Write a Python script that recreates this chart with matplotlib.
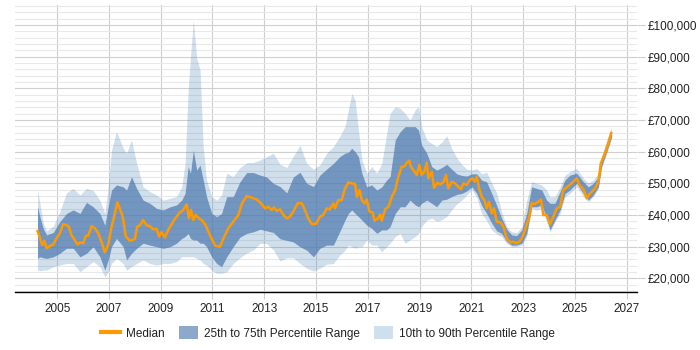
import matplotlib
matplotlib.use('Agg')
import matplotlib.pyplot as plt
from matplotlib.patches import Patch
from matplotlib.lines import Line2D
from matplotlib.ticker import FuncFormatter, MultipleLocator

plt.rcParams['font.family'] = ['Liberation Sans', 'DejaVu Sans']

# median salary (in £k)
median_years = [2004.24, 2004.33, 2004.42, 2004.50, 2004.59, 2004.72, 2004.85, 2004.97,
                2005.10, 2005.23, 2005.36, 2005.45, 2005.55, 2005.68, 2005.79, 2005.88,
                2006.01, 2006.11, 2006.20, 2006.33, 2006.46, 2006.59, 2006.71, 2006.84,
                2006.97, 2007.10, 2007.20, 2007.32, 2007.42, 2007.53, 2007.65, 2007.81,
                2008.00, 2008.09, 2008.20, 2008.32, 2008.45, 2008.58, 2008.71, 2008.84,
                2008.94, 2009.03, 2009.16, 2009.29, 2009.48, 2009.61, 2009.74, 2009.87,
                2010.00, 2010.09, 2010.17, 2010.26, 2010.35, 2010.48, 2010.61, 2010.73,
                2010.90, 2011.10, 2011.29, 2011.42, 2011.61, 2011.80, 2012.00, 2012.13,
                2012.32, 2012.51, 2012.71, 2012.90, 2013.03, 2013.16, 2013.29, 2013.38,
                2013.48, 2013.61, 2013.74, 2013.87, 2013.99, 2014.12, 2014.29, 2014.45,
                2014.57, 2014.70, 2014.83, 2015.00, 2015.15, 2015.28, 2015.41, 2015.54,
                2015.67, 2015.73, 2015.86, 2015.99, 2016.12, 2016.25, 2016.38, 2016.51,
                2016.58, 2016.68, 2016.77, 2016.87, 2016.96, 2017.06, 2017.19, 2017.26,
                2017.39, 2017.48, 2017.54, 2017.67, 2017.80, 2017.93, 2018.06, 2018.18,
                2018.31, 2018.40, 2018.51, 2018.60, 2018.66, 2018.76, 2018.89, 2018.99,
                2019.08, 2019.18, 2019.28, 2019.34, 2019.47, 2019.56, 2019.69, 2019.79,
                2019.92, 2020.02, 2020.11, 2020.24, 2020.37, 2020.50, 2020.60, 2020.69,
                2020.82, 2020.95, 2021.05, 2021.14, 2021.21, 2021.30, 2021.40, 2021.50,
                2021.59, 2021.68, 2021.79, 2021.88, 2021.98, 2022.14, 2022.24, 2022.37,
                2022.50, 2022.62, 2022.75, 2022.88, 2022.98, 2023.11, 2023.24, 2023.33,
                2023.46, 2023.59, 2023.69, 2023.78, 2023.91, 2024.04, 2024.17, 2024.30,
                2024.43, 2024.55, 2024.75, 2024.94, 2025.07, 2025.17, 2025.33, 2025.46,
                2025.58, 2025.78, 2025.91, 2026.00, 2026.16, 2026.29, 2026.40]
median = [34.9, 32.9, 30.5, 31.9, 29.5, 30.2, 30.7, 32.6,
          34.2, 37.1, 36.8, 36.3, 33.7, 32.1, 30.7, 31.4,
          31.1, 33.5, 33.5, 36.5, 35.8, 34.2, 31.6, 28.2,
          30.5, 36.3, 39.5, 44.0, 42.1, 39.5, 33.2, 31.9,
          32.4, 36.3, 36.8, 38.4, 36.8, 36.5, 35.5, 35.6,
          33.2, 34.7, 32.9, 35.3, 37.9, 39.5, 40.8, 41.6,
          43.4, 39.0, 41.6, 38.4, 40.0, 38.9, 38.2, 36.8,
          33.7, 30.3, 30.0, 32.6, 35.8, 37.9, 40.0, 43.5,
          46.0, 45.5, 44.9, 43.5, 42.1, 42.6, 41.6, 42.4,
          41.3, 41.8, 40.0, 38.9, 39.5, 41.1, 43.7, 43.7,
          41.6, 38.9, 37.2, 37.2, 39.5, 40.0, 42.1, 41.8,
          43.7, 42.1, 44.7, 44.7, 48.4, 50.3, 50.0, 49.8,
          45.8, 47.9, 44.7, 43.7, 44.9, 41.1, 40.8, 38.2,
          38.9, 40.2, 38.2, 41.8, 42.6, 45.8, 47.9, 52.1,
          55.3, 55.3, 56.5, 57.2, 55.3, 54.2, 52.6, 55.8,
          52.6, 53.7, 56.5, 51.6, 53.7, 48.6, 50.2, 49.7,
          50.3, 52.6, 48.4, 50.5, 50.0, 48.9, 48.1, 50.0,
          49.5, 51.1, 51.6, 50.5, 52.1, 48.4, 45.8, 44.7,
          42.1, 44.2, 40.5, 42.1, 37.9, 37.6, 36.3, 32.6,
          31.4, 31.6, 31.1, 31.8, 33.2, 36.3, 39.5, 43.7,
          43.5, 44.2, 44.9, 40.0, 40.0, 37.1, 39.5, 42.1,
          42.6, 47.9, 49.2, 50.5, 51.6, 49.5, 48.1, 45.3,
          46.8, 48.4, 50.5, 56.3, 59.5, 62.6, 65.8]

# percentile bands (in £k)
band_years = [2004.24, 2004.33, 2004.46, 2004.59, 2004.85, 2005.10, 2005.36, 2005.62,
              2005.88, 2006.13, 2006.39, 2006.65, 2006.84, 2006.97, 2007.10, 2007.29,
              2007.55, 2007.68, 2007.87, 2008.07, 2008.32, 2008.58, 2008.84, 2009.10,
              2009.36, 2009.61, 2009.81, 2009.94, 2010.06, 2010.15, 2010.26, 2010.39,
              2010.52, 2010.64, 2010.77, 2010.97, 2011.16, 2011.35, 2011.55, 2011.80,
              2012.06, 2012.32, 2012.58, 2012.84, 2013.09, 2013.35, 2013.61, 2013.87,
              2014.12, 2014.38, 2014.64, 2014.90, 2015.15, 2015.41, 2015.67, 2015.93,
              2016.12, 2016.25, 2016.38, 2016.51, 2016.64, 2016.77, 2016.96, 2017.15,
              2017.35, 2017.54, 2017.73, 2017.86, 2018.06, 2018.25, 2018.44, 2018.63,
              2018.83, 2018.96, 2019.08, 2019.28, 2019.47, 2019.66, 2019.86, 2020.05,
              2020.24, 2020.44, 2020.63, 2020.82, 2021.02, 2021.21, 2021.40, 2021.59,
              2021.79, 2021.98, 2022.17, 2022.37, 2022.56, 2022.75, 2022.95, 2023.14,
              2023.33, 2023.52, 2023.72, 2023.91, 2024.04, 2024.23, 2024.43, 2024.62,
              2024.81, 2025.07, 2025.33, 2025.52, 2025.71, 2025.91, 2026.03, 2026.23,
              2026.42]
p10 = [22.6, 22.4, 22.6, 22.6, 23.7, 24.2, 24.7, 24.7,
       22.1, 23.7, 25.3, 23.7, 20.5, 22.1, 24.7, 26.3,
       24.7, 22.6, 23.7, 24.7, 25.8, 24.7, 24.2, 24.7,
       24.7, 25.3, 26.8, 26.8, 26.8, 26.8, 26.8, 26.3,
       25.8, 24.7, 24.2, 22.6, 21.6, 21.6, 22.1, 24.7,
       26.5, 28.0, 29.0, 31.1, 31.0, 29.0, 25.5, 26.5,
       26.5, 24.7, 23.2, 22.3, 23.2, 24.5, 24.7, 27.5,
       28.9, 30.5, 30.0, 29.5, 30.0, 30.0, 32.1, 30.5,
       30.5, 28.4, 30.0, 31.1, 33.2, 34.2, 31.1, 32.1,
       33.2, 34.2, 36.3, 38.4, 39.0, 38.0, 38.5, 39.5,
       41.6, 43.5, 44.7, 46.3, 48.0, 45.5, 40.5, 38.2,
       35.3, 34.0, 33.2, 31.0, 30.0, 30.0, 30.5, 33.2,
       42.1, 41.6, 42.1, 37.9, 34.7, 37.9, 40.5, 45.8,
       46.8, 48.9, 45.8, 44.2, 45.8, 48.4, 54.7, 59.5,
       64.2]
p25 = [26.3, 26.8, 26.5, 26.3, 26.8, 27.9, 29.5, 29.5,
       26.8, 27.9, 30.0, 26.8, 22.6, 25.8, 30.0, 32.6,
       30.0, 25.8, 27.9, 29.5, 31.1, 30.5, 30.0, 29.5,
       30.0, 31.1, 32.6, 33.2, 34.2, 32.6, 32.1, 32.1,
       31.1, 31.1, 30.0, 26.8, 24.7, 23.7, 26.8, 30.0,
       33.0, 34.2, 34.7, 35.5, 35.0, 34.5, 32.5, 32.0,
       31.5, 30.0, 28.9, 26.8, 29.5, 30.5, 30.5, 35.0,
       38.4, 40.5, 41.6, 40.5, 39.5, 38.4, 36.8, 35.8,
       34.2, 35.3, 35.3, 36.3, 40.5, 42.6, 42.6, 44.7,
       43.2, 42.6, 43.7, 44.7, 43.7, 42.6, 44.7, 45.0,
       45.8, 46.5, 46.8, 47.6, 48.9, 46.8, 43.0, 40.5,
       37.4, 35.0, 34.2, 31.6, 30.5, 30.5, 31.1, 34.2,
       42.6, 42.6, 43.2, 38.9, 35.3, 38.4, 41.6, 46.8,
       47.9, 50.0, 46.8, 44.7, 46.3, 48.9, 55.3, 60.0,
       64.7]
p75 = [42.6, 39.5, 35.8, 33.7, 34.5, 37.9, 40.5, 41.6,
       40.5, 44.0, 42.6, 40.5, 36.8, 42.6, 47.9, 49.5,
       48.9, 47.9, 52.1, 48.4, 44.7, 43.7, 42.1, 41.6,
       42.6, 43.2, 44.7, 46.8, 55.3, 53.2, 60.5, 54.2,
       55.8, 51.1, 45.8, 40.5, 39.5, 40.5, 45.8, 45.8,
       50.5, 53.4, 53.4, 52.6, 52.0, 50.0, 49.0, 47.0,
       52.0, 53.5, 50.0, 49.0, 52.6, 54.5, 56.3, 58.5,
       59.5, 59.8, 61.1, 60.0, 58.4, 53.2, 48.9, 49.5,
       47.9, 48.9, 51.1, 52.1, 63.7, 66.3, 67.9, 67.9,
       67.9, 66.8, 62.1, 59.5, 55.3, 54.2, 55.0, 56.0,
       54.5, 53.0, 52.5, 52.3, 53.0, 53.0, 51.0, 50.5,
       46.8, 43.0, 39.0, 35.5, 33.7, 33.5, 35.3, 40.5,
       48.9, 48.4, 47.9, 44.7, 43.7, 43.7, 47.4, 51.1,
       52.6, 53.2, 50.5, 48.9, 50.0, 52.1, 57.4, 62.6,
       66.8]
p90 = [47.9, 43.7, 37.5, 35.0, 36.5, 41.0, 47.0, 48.4,
       46.3, 48.4, 47.8, 44.7, 40.5, 48.9, 60.5, 66.3,
       61.1, 59.5, 63.7, 56.3, 48.9, 47.4, 46.3, 44.7,
       45.3, 45.8, 48.9, 56.3, 79.5, 90.0, 101.6, 89.5,
       85.8, 61.6, 51.1, 45.8, 44.7, 46.3, 53.2, 52.1,
       55.0, 56.5, 56.6, 57.4, 58.4, 59.5, 56.0, 55.0,
       58.5, 62.0, 56.3, 54.5, 55.8, 59.5, 61.6, 65.0,
       68.0, 73.2, 78.4, 76.3, 66.8, 57.4, 53.2, 55.3,
       53.2, 56.3, 65.8, 72.1, 74.2, 73.7, 72.1, 70.0,
       73.2, 74.2, 67.9, 63.7, 62.6, 61.6, 63.0, 65.0,
       61.0, 58.0, 56.0, 54.5, 54.2, 54.7, 53.0, 53.5,
       50.0, 47.0, 41.0, 36.3, 34.7, 34.5, 36.3, 44.7,
       50.5, 50.0, 49.5, 47.9, 45.8, 45.8, 48.9, 52.6,
       53.7, 54.7, 51.6, 50.0, 51.1, 53.2, 58.4, 63.7,
       67.9]

year_ticks = list(range(2005, 2028, 2))

band_col = '#4f7ab0'
fig = plt.figure(figsize=(7, 3.5), dpi=100)
ax = fig.add_axes([15/700, 1 - 292/350, (637 - 15)/700, (292 - 5)/350])

ax.fill_between(band_years, p10, p90, color='#4682b4', alpha=0.25, lw=0, zorder=2)
ax.fill_between(band_years, p25, p75, color=band_col, alpha=0.72, lw=0, zorder=3)
ax.plot(median_years, median, color='#ff9900', lw=1.8, zorder=4)

ax.set_xlim(2003.37, 2027.4)
ax.set_ylim(15.7, 106.3)

ax.set_xticks(year_ticks)
ax.set_xticklabels([str(y) for y in year_ticks])
ax.yaxis.set_major_locator(MultipleLocator(10))
ax.yaxis.set_minor_locator(MultipleLocator(2))
ax.yaxis.set_major_formatter(FuncFormatter(lambda v, p: '£{:,.0f}'.format(v * 1000)))
ax.yaxis.tick_right()

ax.grid(axis='y', which='minor', color='#e8e8e8', lw=0.8, zorder=0)
ax.grid(axis='y', which='major', color='#cfcfcf', lw=0.8, zorder=0)
ax.grid(axis='x', which='major', color='#cfcfcf', lw=0.8, zorder=0)
ax.set_axisbelow(True)

ax.tick_params(axis='y', which='major', length=6, color='#cfcfcf', pad=2,
               labelsize=8.5, labelcolor='#222222')
ax.tick_params(axis='y', which='minor', length=0)
ax.tick_params(axis='x', length=5, color='#cfcfcf', pad=3,
               labelsize=8.5, labelcolor='#222222')

for s in ['top', 'left', 'right']:
    ax.spines[s].set_visible(False)
ax.spines['bottom'].set_color('black')
ax.spines['bottom'].set_linewidth(1)
ax.spines['bottom'].set_zorder(5)

handles = [Line2D([0], [0], color='#ff9900', lw=3),
           Patch(facecolor=band_col, alpha=0.65, lw=0),
           Patch(facecolor='#4682b4', alpha=0.25, lw=0)]
labels = ['Median', '25th to 75th Percentile Range', '10th to 90th Percentile Range']
fig.legend(handles, labels, loc='center', bbox_to_anchor=(328/700, 1 - 333/350), ncol=3,
           frameon=False, fontsize=8.5, handlelength=1.6, handleheight=1.3,
           columnspacing=1.2, handletextpad=0.5, labelcolor='#222222')

fig.savefig('out.png', dpi=100)
